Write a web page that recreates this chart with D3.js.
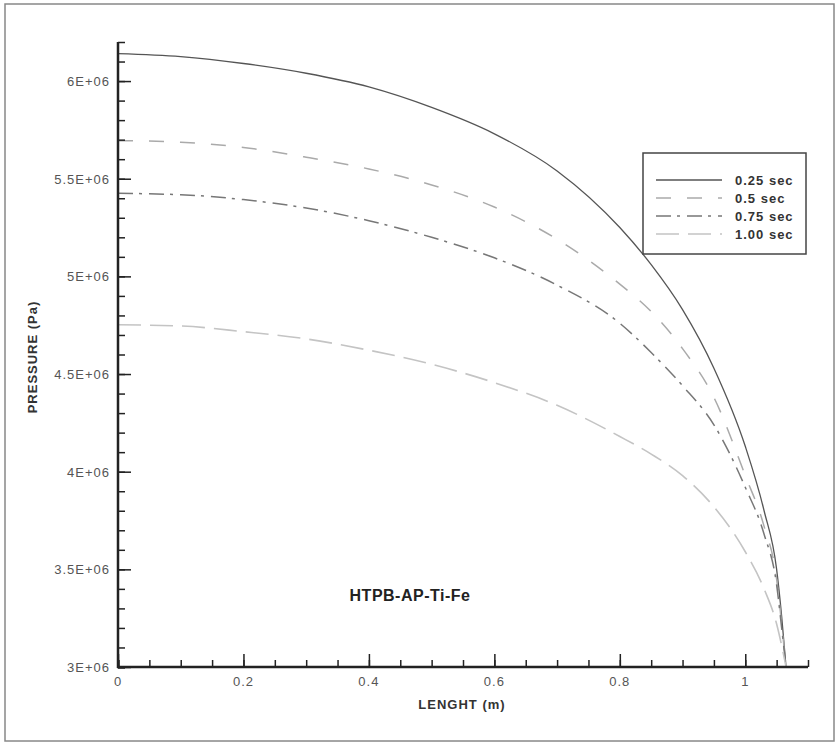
<!DOCTYPE html>
<html>
<head>
<meta charset="utf-8">
<script src="https://cdn.jsdelivr.net/npm/d3@7"></script>
<style>
  html, body { margin: 0; padding: 0; background: #fff; }
  svg { display: block; font-family: "Liberation Sans", Arial, sans-serif; }
</style>
</head>
<body>
<div id="chart"></div>
<script>
// Length along the grain (m), shared by all series
const lengths = [0, 0.1, 0.2, 0.3, 0.4, 0.5, 0.6, 0.7, 0.8, 0.85, 0.9, 0.95, 1.0, 1.03, 1.05, 1.058, 1.065];

// Pressure (Pa) for each time
const p025 = [6.14e6, 6.125e6, 6.09e6, 6.04e6, 5.97e6, 5.865e6, 5.73e6, 5.54e6, 5.25e6, 5.06e6, 4.83e6, 4.53e6, 4.13e6, 3.80e6, 3.50e6, 3.26e6, 3.0e6];
const p050 = [5.695e6, 5.687e6, 5.66e6, 5.61e6, 5.55e6, 5.468e6, 5.355e6, 5.19e6, 4.96e6, 4.82e6, 4.63e6, 4.38e6, 3.98e6, 3.72e6, 3.45e6, 3.22e6, 3.0e6];
const p075 = [5.425e6, 5.418e6, 5.393e6, 5.35e6, 5.285e6, 5.20e6, 5.095e6, 4.955e6, 4.76e6, 4.61e6, 4.44e6, 4.24e6, 3.92e6, 3.68e6, 3.42e6, 3.20e6, 3.0e6];
const p100 = [4.752e6, 4.746e6, 4.717e6, 4.68e6, 4.622e6, 4.55e6, 4.456e6, 4.34e6, 4.18e6, 4.09e6, 3.98e6, 3.82e6, 3.59e6, 3.40e6, 3.22e6, 3.11e6, 3.0e6];

const seriesNames = ["0.25 sec", "0.5 sec", "0.75 sec", "1.00 sec"];
const seriesValues = [p025, p050, p075, p100];

const xMajorTicks = [0, 0.2, 0.4, 0.6, 0.8, 1];
const yMajorTicks = [3e6, 3.5e6, 4e6, 4.5e6, 5e6, 5.5e6, 6e6];
const yTickLabels = ["3E+06", "3.5E+06", "4E+06", "4.5E+06", "5E+06", "5.5E+06", "6E+06"];

// line styles per series
const styles = [
  { color: "#555", dash: null, w: 1.3 },
  { color: "#aaa", dash: "15,16", w: 1.5 },
  { color: "#777", dash: "15,6,3,7", w: 1.5 },
  { color: "#c4c4c4", dash: "23,9", w: 1.6 }
];

const W = 840, H = 746;
const plot = { left: 118, right: 808, top: 42, bottom: 667 };

const svg = d3.select("#chart").append("svg")
  .attr("width", W)
  .attr("height", H);

// outer frame
svg.append("rect")
  .attr("x", 5).attr("y", 4)
  .attr("width", 829).attr("height", 737)
  .attr("fill", "none")
  .attr("stroke", "#888")
  .attr("stroke-width", 1.5);

const x = d3.scaleLinear().domain([0, 1.1]).range([plot.left, plot.right]);
const y = d3.scaleLinear().domain([3e6, 6.2e6]).range([plot.bottom, plot.top]);

// curves
const line = d3.line()
  .x(d => x(d[0]))
  .y(d => y(d[1]))
  .curve(d3.curveMonotoneX);

seriesValues.forEach((vals, i) => {
  const pts = lengths.map((l, j) => [l, vals[j]]);
  svg.append("path")
    .datum(pts)
    .attr("fill", "none")
    .attr("stroke", styles[i].color)
    .attr("stroke-width", styles[i].w)
    .attr("stroke-dasharray", styles[i].dash)
    .attr("d", line);
});

// X axis (ticks pointing inward)
const xAxis = svg.append("g").attr("transform", `translate(0,${plot.bottom})`);
xAxis.call(d3.axisTop(x).tickValues(d3.range(0, 1.1001, 0.05)).tickSize(7).tickFormat(""));
xAxis.append("g").call(d3.axisTop(x).tickValues(xMajorTicks).tickSize(13).tickFormat(""));
xAxis.selectAll(".domain").remove();
xAxis.selectAll("line").attr("stroke", "#222").attr("stroke-width", 1.5);
xAxis.select("g").selectAll("line").attr("stroke-width", 2.5);

// Y axis (ticks pointing inward)
const yAxis = svg.append("g").attr("transform", `translate(${plot.left},0)`);
yAxis.call(d3.axisRight(y).tickValues(d3.range(3e6, 6.2001e6, 1e5)).tickSize(7).tickFormat(""));
yAxis.append("g").call(d3.axisRight(y).tickValues(yMajorTicks).tickSize(13).tickFormat(""));
yAxis.selectAll(".domain").remove();
yAxis.selectAll("line").attr("stroke", "#222").attr("stroke-width", 1.5);
yAxis.select("g").selectAll("line").attr("stroke-width", 2.5);

// axis lines
svg.append("line")
  .attr("x1", plot.left).attr("x2", plot.left)
  .attr("y1", plot.top).attr("y2", plot.bottom + 1)
  .attr("stroke", "#222").attr("stroke-width", 2.5);
svg.append("line")
  .attr("x1", plot.left - 1).attr("x2", plot.right)
  .attr("y1", plot.bottom).attr("y2", plot.bottom)
  .attr("stroke", "#222").attr("stroke-width", 2.5);

// tick labels
svg.selectAll(".xlab")
  .data(xMajorTicks)
  .enter().append("text")
  .attr("x", d => x(d))
  .attr("y", plot.bottom + 19)
  .attr("text-anchor", "middle")
  .attr("fill", "#555")
  .style("font-size", "13px")
  .style("letter-spacing", "1px")
  .text(d => d3.format("")(d));

svg.selectAll(".ylab")
  .data(yMajorTicks)
  .enter().append("text")
  .attr("x", plot.left - 8)
  .attr("y", d => y(d) + 5)
  .attr("text-anchor", "end")
  .attr("fill", "#555")
  .style("font-size", "13px")
  .style("letter-spacing", "1px")
  .text((d, i) => yTickLabels[i]);

// axis titles
svg.append("text")
  .attr("x", 462)
  .attr("y", 709)
  .attr("text-anchor", "middle")
  .attr("fill", "#333")
  .style("font-size", "13px")
  .style("font-weight", "bold")
  .style("letter-spacing", "1px")
  .text("LENGHT (m)");

svg.append("text")
  .attr("transform", "translate(37,357) rotate(-90)")
  .attr("text-anchor", "middle")
  .attr("fill", "#333")
  .style("font-size", "13px")
  .style("font-weight", "bold")
  .style("letter-spacing", "1px")
  .text("PRESSURE (Pa)");

// material label
svg.append("text")
  .attr("x", 410)
  .attr("y", 601)
  .attr("text-anchor", "middle")
  .attr("fill", "#222")
  .style("font-size", "16px")
  .style("font-weight", "bold")
  .style("letter-spacing", "0.5px")
  .text("HTPB-AP-Ti-Fe");

// legend
const legend = svg.append("g");
legend.append("rect")
  .attr("x", 643).attr("y", 153)
  .attr("width", 163).attr("height", 101)
  .attr("fill", "#fff")
  .attr("stroke", "#444")
  .attr("stroke-width", 1.5);

seriesNames.forEach((name, i) => {
  const ly = 180 + i * 18;
  legend.append("line")
    .attr("x1", 656).attr("x2", 722)
    .attr("y1", ly).attr("y2", ly)
    .attr("stroke", styles[i].color)
    .attr("stroke-width", styles[i].w)
    .attr("stroke-dasharray", styles[i].dash);
  legend.append("text")
    .attr("x", 735)
    .attr("y", ly + 5)
    .attr("fill", "#333")
    .style("font-size", "13px")
    .style("font-weight", "bold")
    .style("letter-spacing", "1px")
    .text(name);
});
</script>
</body>
</html>
